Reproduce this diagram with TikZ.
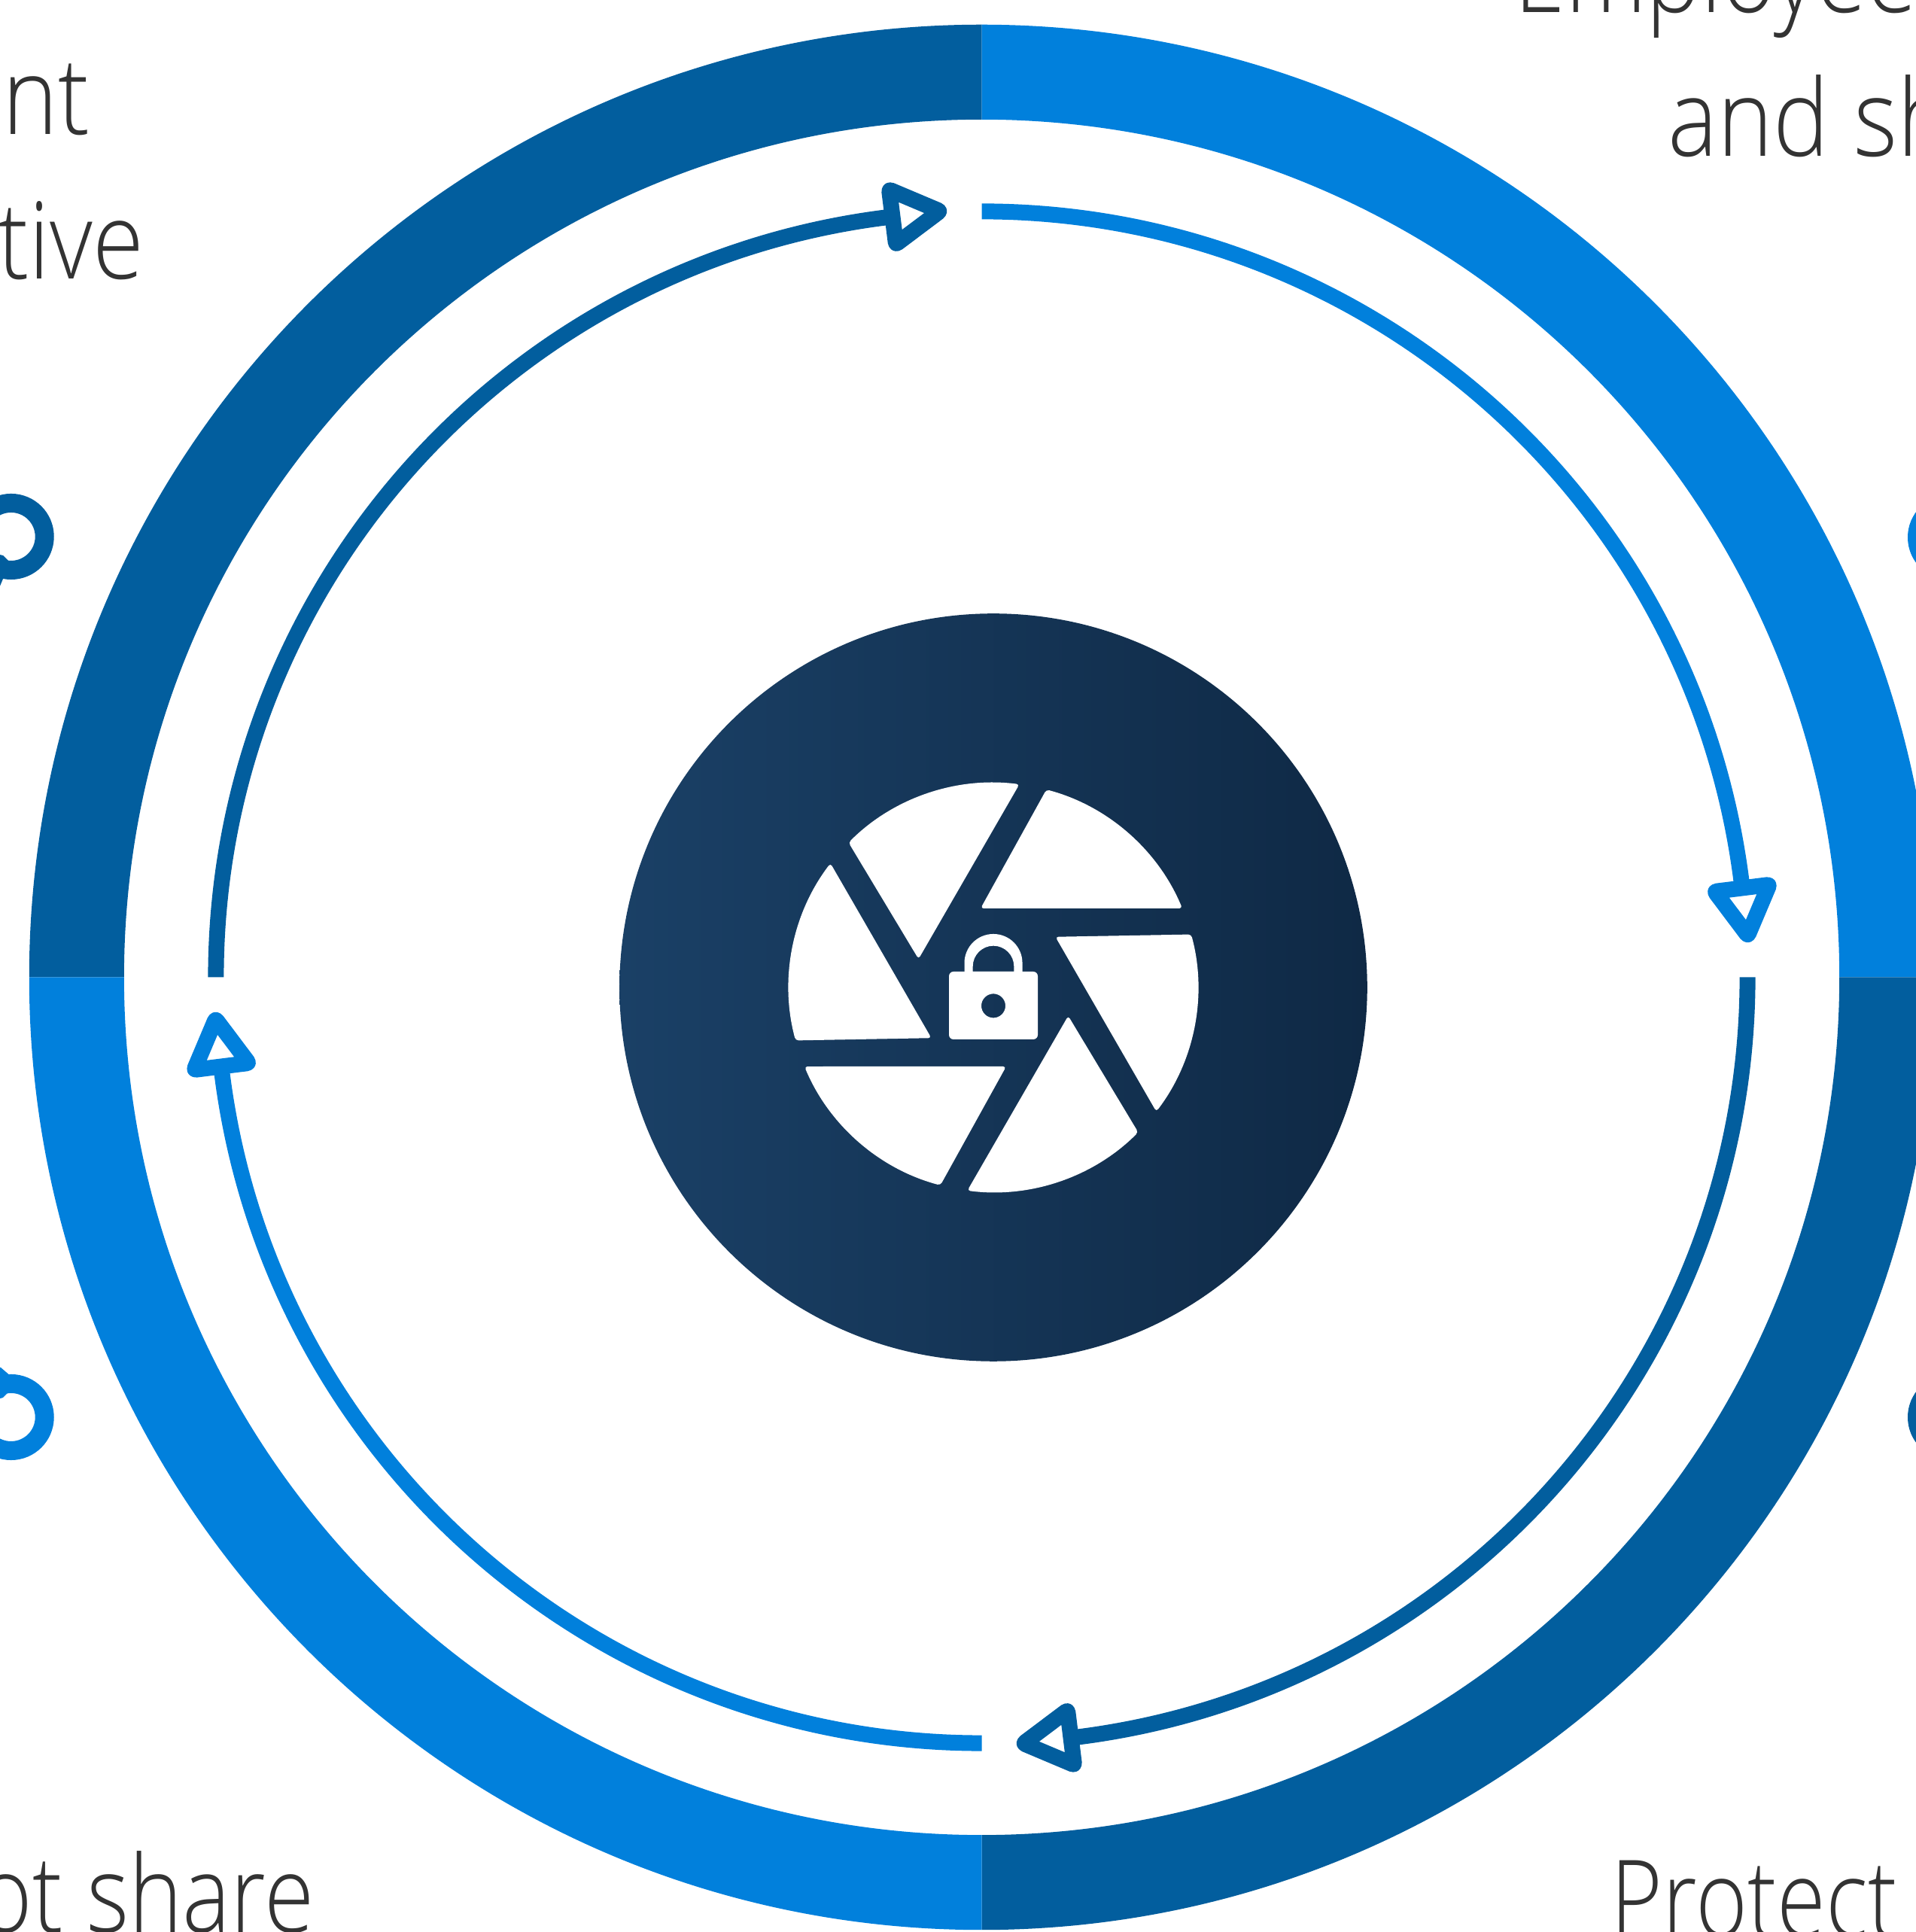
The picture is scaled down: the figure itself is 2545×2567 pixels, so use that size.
\documentclass[tikz,border=0pt]{standalone}
\usepackage{fontspec}
\newfontfamily\lightfont{Open Sans Light}
\definecolor{ringdark}{HTML}{025E9E}
\definecolor{ringblue}{HTML}{0180DC}
\definecolor{discleft}{HTML}{1A4066}
\definecolor{discright}{HTML}{0F2945}
\definecolor{ink}{HTML}{333333}
\tikzset{
  lbl/.style={inner sep=0pt,text=ink,font=\lightfont\fontsize{40.4}{48}\selectfont,transform shape},
  thinarc/.style={line width=.21cm},
  arrowtri/.style={line width=.21cm,line join=round,fill=white,rounded corners=.025cm},
  lens/.style={line width=.25cm},
  blade/.style={fill=white,rounded corners=.04cm}
}
\begin{document}
\begin{tikzpicture}[x=.01cm,y=.01cm]
\useasboundingbox (0,0) rectangle (2545,2567);
\coordinate (C) at (1304.5,1268.5);
\coordinate (D) at (1320,1255);
% ring and inner arrows
\foreach \k/\c in {0/ringdark,1/ringblue,2/ringdark,3/ringblue}{
  \begin{scope}[shift={(C)},rotate=-90*\k]
    \fill[\c] (180:12.65cm) arc (180:90:12.65cm) -- (90:11.39cm) arc (90:180:11.39cm) -- cycle;
    \draw[thinarc,\c] (180:10.17cm) arc (180:96.6:10.17cm);
    \coordinate (p) at (-123,1046.5);
    \coordinate (q) at (-55.5,1018);
    \coordinate (r) at (-114,974);
    \draw[arrowtri,draw=\c] (p) -- (q) -- (r) -- cycle;
  \end{scope}
}
% central disc
\shade[left color=discleft,right color=discright] (D) circle (4.965cm);
% shutter blades
\foreach \k in {0,...,5}{
  \begin{scope}[shift={(D)},rotate=-60*\k]
    \fill[blade] (-17,105) -- (22.7:2.72cm) arc (22.7:75:2.72cm) -- cycle;
  \end{scope}
}
% padlock
\begin{scope}[shift={(D)}]
  \fill[white,even odd rule,rounded corners=.06cm]
    (-59,-69) rectangle (59,21)
    [sharp corners] (0,-24.4) circle (.16cm);
  \fill[white,even odd rule]
    (-38.5,19) -- (-38.5,32.5) arc (180:0:.385cm) -- (38.5,19) -- cycle
    (-27.3,21) -- (-27.3,28) arc (180:0:.273cm) -- (27.3,21) -- cycle;
\end{scope}
% magnifier lenses at the edges
\draw[lens,ringdark] (14.7,1854) circle (.445cm);
\fill[ringdark] (-10,1832) -- (4,1829) -- (11,1822) -- (7,1805) -- (-1,1786) -- (-10,1786) -- cycle;
\draw[lens,ringblue] (14.7,684) circle (.445cm);
\fill[ringblue] (-10,706) -- (4,710) -- (11,717) -- (15,738) -- (1,750) -- (-10,750) -- cycle;
\draw[lens,ringblue] (2592,1853) circle (.445cm);
\draw[lens,ringdark] (2592,684) circle (.445cm);
% text
\node[lbl,anchor=base west,xscale=.88] (t1) at (3,2388) {nt};
\node[lbl,anchor=base east,xscale=.87] (t2) at (192,2196) {tive};
\node[lbl,anchor=base east,xscale=.85] (t3) at (418,-1) {ot share};
\node[lbl,anchor=base west,xscale=.86] (t4) at (2012,2550) {Employee};
\node[lbl,anchor=base west,xscale=.88] (t5) at (2216,2359) {and sh};
\node[lbl,anchor=base west,xscale=.83] (t6) at (2140,-6) {Protect};
\end{tikzpicture}
\end{document}
